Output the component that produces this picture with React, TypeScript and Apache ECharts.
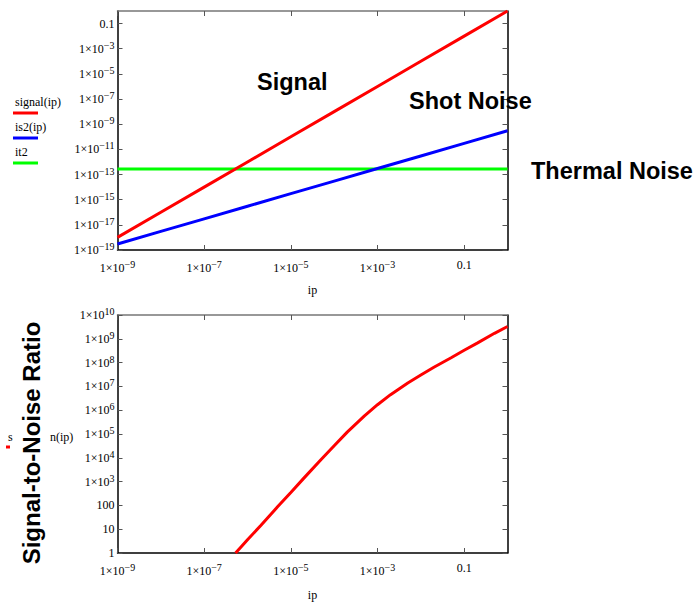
import React, { useEffect, useRef } from 'react';
import * as echarts from 'echarts';

// ---- data ----
const ipValues = [1e-9, 1e-8, 1e-7, 1e-6, 1e-5, 1e-4, 1e-3, 1e-2, 1e-1, 1];
const signalValues = [1e-18, 1e-16, 1e-14, 1e-12, 1e-10, 1e-8, 1e-6, 1e-4, 1e-2, 1];
const shotNoiseValues = [3e-19, 3e-18, 3e-17, 3e-16, 3e-15, 3e-14, 3e-13, 3e-12, 3e-11, 3e-10];
const thermalIp = [1e-9, 1];
const thermalNoiseValues = [2.8e-13, 2.8e-13];
const snrIp = [
  5.3e-7, 7e-7, 1e-6, 2e-6, 5e-6, 1e-5, 2e-5, 5e-5, 1e-4, 2e-4, 5e-4,
  1e-3, 2e-3, 5e-3, 1e-2, 2e-2, 5e-2, 0.1, 0.2, 0.5, 1,
];
const snrValues = [
  1, 1.75, 3.6, 14, 89, 350, 1400, 8500, 3.2e4, 1.2e5, 5.8e5,
  1.7e6, 4.5e6, 1.4e7, 3.0e7, 6.4e7, 1.6e8, 3.3e8, 6.6e8, 1.7e9, 3.3e9,
];

const xTicks = [1e-9, 1e-7, 1e-5, 1e-3, 0.1];
const topYTicks = [1e-19, 1e-17, 1e-15, 1e-13, 1e-11, 1e-9, 1e-7, 1e-5, 1e-3, 0.1];
const bottomYTicks = [1, 10, 100, 1e3, 1e4, 1e5, 1e6, 1e7, 1e8, 1e9, 1e10];

const X_MIN = 1e-9, X_MAX = 1;
const TOP_Y_MIN = 1e-19, TOP_Y_MAX = 1;
const BOT_Y_MIN = 1, BOT_Y_MAX = 1e10;

const SERIF = '"Liberation Serif", "Times New Roman", serif';
const SANS = '"Liberation Sans", Arial, sans-serif';

function fmt(v: number): string {
  const e = Math.round(Math.log10(v));
  if (e === -1) return '0.1';
  if (e === 0) return '1';
  if (e === 1) return '10';
  if (e === 2) return '100';
  const s = e < 0 ? '\u2212' + Math.abs(e) : String(e);
  return '1\u00d710{sup|' + s + '}';
}

const labelStyle = {
  fontFamily: SERIF,
  fontSize: 12,
  color: '#000',
  rich: {
    sup: { fontFamily: SERIF, fontSize: 10, color: '#000', verticalAlign: 'bottom', padding: [0, 0, 7, 0] },
  },
};

function xAxis(grid: number, primary: boolean, nameGap: number) {
  return {
    type: 'log',
    logBase: 10,
    gridIndex: grid,
    position: primary ? 'bottom' : 'top',
    min: X_MIN * (1 - 1e-6),
    max: X_MAX * (1 + 1e-6),
    name: primary ? 'ip' : '',
    nameLocation: 'middle',
    nameGap,
    nameTextStyle: { fontFamily: SERIF, fontSize: 12, color: '#000' },
    axisLine: { show: true, onZero: false, lineStyle: { color: primary ? '#000' : '#777', width: 1.5 } },
    axisTick: { show: true, inside: true, length: 5, customValues: xTicks, lineStyle: { color: '#555', width: 1 } },
    axisLabel: primary
      ? { show: true, margin: 9, customValues: xTicks, formatter: fmt, ...labelStyle }
      : { show: false },
    minorTick: { show: false },
    splitLine: { show: false },
  };
}

function yAxis(grid: number, primary: boolean, min: number, max: number, ticks: number[]) {
  return {
    type: 'log',
    logBase: 10,
    gridIndex: grid,
    position: primary ? 'left' : 'right',
    min: min * (1 - 1e-6),
    max: max * (1 + 1e-6),
    axisLine: { show: true, onZero: false, lineStyle: { color: '#000', width: 1.5 } },
    axisTick: { show: true, inside: true, length: 5, customValues: ticks, lineStyle: { color: '#555', width: 1 } },
    axisLabel: primary
      ? { show: true, margin: 3, customValues: ticks, formatter: fmt, ...labelStyle }
      : { show: false },
    splitLine: { show: false },
  };
}

function zip(xs: number[], ys: number[]) {
  return xs.map((x, i) => [x, ys[i]]);
}

function lineSeries(name: string, xi: number, yi: number, data: number[][], color: string) {
  return {
    name,
    type: 'line',
    xAxisIndex: xi,
    yAxisIndex: yi,
    data,
    showSymbol: false,
    symbol: 'none',
    smooth: false,
    lineStyle: { color, width: 3 },
    itemStyle: { color },
    z: 3,
  };
}

function legendItem(label: string, y: number, color: string) {
  return [
    { type: 'text', x: 15, y, style: { text: label, font: '12px ' + SERIF, fill: '#000', align: 'left', verticalAlign: 'middle' } },
    { type: 'line', shape: { x1: 13, y1: y + 11, x2: 38, y2: y + 11 }, style: { stroke: color, lineWidth: 3 } },
  ];
}

function bigText(text: string, x: number, y: number) {
  return {
    type: 'text',
    x,
    y,
    z: 10,
    style: { text, font: 'bold 23.5px ' + SANS, fill: '#000', align: 'left', verticalAlign: 'middle' },
  };
}

export default function App() {
  const ref = useRef<HTMLDivElement>(null);
  useEffect(() => {
    const chart = echarts.init(ref.current!, null, { renderer: 'svg' });
    const option = {
      animation: false,
      backgroundColor: '#fff',
      grid: [
        { left: 117.5, top: 11, width: 390, height: 239, containLabel: false },
        { left: 117.5, top: 315, width: 390, height: 240, containLabel: false },
      ],
      xAxis: [xAxis(0, true, 34), xAxis(0, false, 0), xAxis(1, true, 36), xAxis(1, false, 0)],
      yAxis: [
        yAxis(0, true, TOP_Y_MIN, TOP_Y_MAX, topYTicks),
        yAxis(0, false, TOP_Y_MIN, TOP_Y_MAX, topYTicks),
        yAxis(1, true, BOT_Y_MIN, BOT_Y_MAX, bottomYTicks),
        yAxis(1, false, BOT_Y_MIN, BOT_Y_MAX, bottomYTicks),
      ],
      series: [
        lineSeries('it2', 0, 0, zip(thermalIp, thermalNoiseValues), '#00ff00'),
        lineSeries('is2(ip)', 0, 0, zip(ipValues, shotNoiseValues), '#0000ff'),
        lineSeries('signal(ip)', 0, 0, zip(ipValues, signalValues), '#ff0000'),
        lineSeries('snr(ip)', 2, 2, zip(snrIp, snrValues), '#ff0000'),
      ],
      graphic: [
        ...legendItem('signal(ip)', 102, '#ff0000'),
        ...legendItem('is2(ip)', 127, '#0000ff'),
        ...legendItem('it2', 152, '#00ff00'),
        bigText('Signal', 257, 82),
        bigText('Shot Noise', 409, 101),
        bigText('Thermal Noise', 531, 171),
        { type: 'text', x: 8, y: 437, style: { text: 's', font: '12px ' + SERIF, fill: '#000', align: 'left', verticalAlign: 'middle' } },
        { type: 'text', x: 50, y: 437, style: { text: 'n(ip)', font: '12px ' + SERIF, fill: '#000', align: 'left', verticalAlign: 'middle' } },
        { type: 'line', shape: { x1: 6, y1: 447, x2: 10, y2: 447 }, style: { stroke: '#ff0000', lineWidth: 3 } },
        {
          type: 'text',
          x: 31,
          y: 443,
          rotation: Math.PI / 2,
          z: 20,
          style: {
            text: 'Signal-to-Noise Ratio',
            font: 'bold 24px ' + SANS,
            fill: '#000',
            align: 'center',
            verticalAlign: 'middle',
            backgroundColor: '#fff',
            padding: [2, 4, 2, 4],
          },
        },
      ],
    };
    chart.setOption(option as any);
    return () => chart.dispose();
  }, []);
  return (
    <div
      ref={ref}
      style={{ position: 'fixed', left: 0, top: 0, width: 700, height: 602, background: '#fff' }}
    />
  );
}
